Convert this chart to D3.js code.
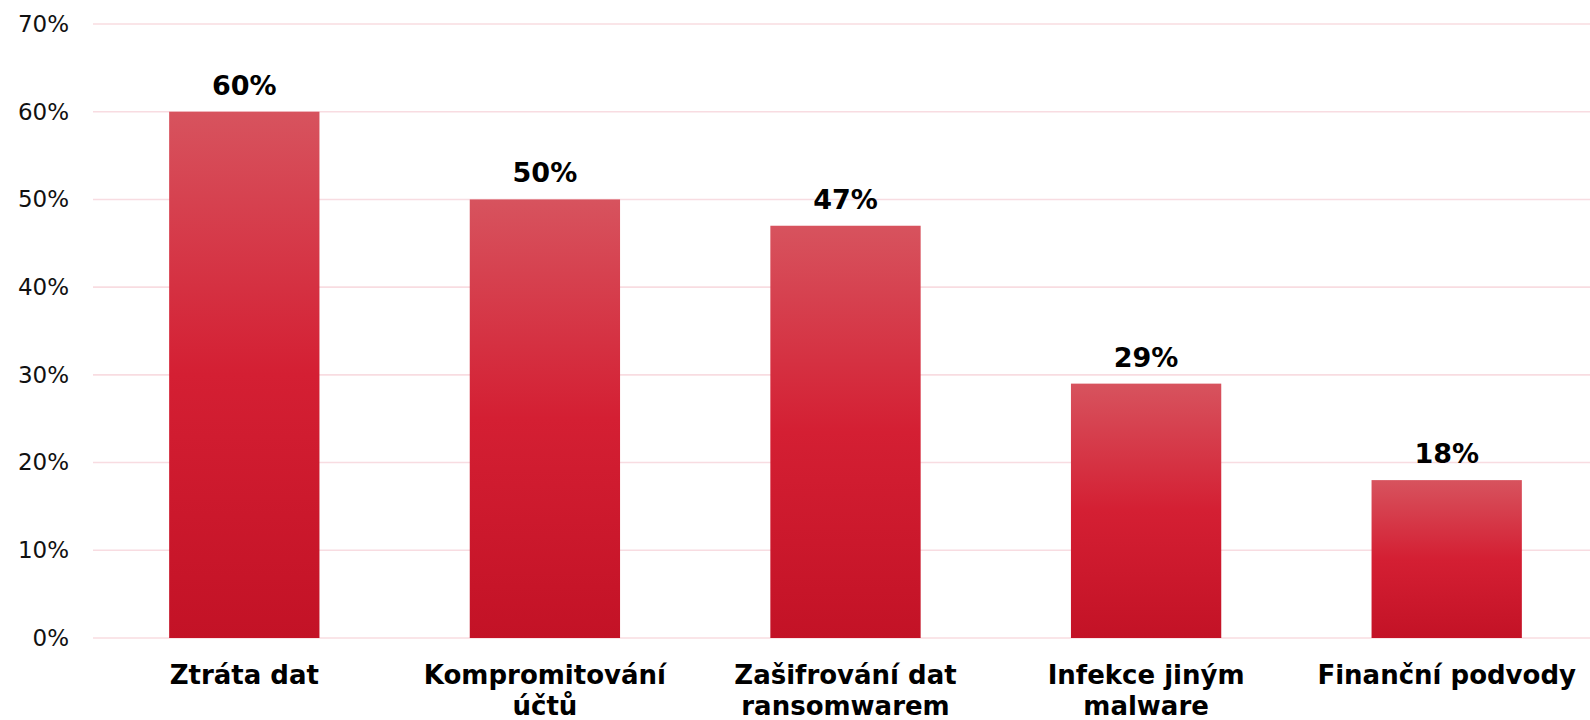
<!DOCTYPE html>
<html>
<head>
<meta charset="utf-8">
<script src="https://cdn.jsdelivr.net/npm/d3@7"></script>
<style>
  html, body { margin: 0; padding: 0; background: #ffffff; }
  svg { display: block; }
</style>
</head>
<body>
<svg id="chart" width="1590" height="720"></svg>
<script>
const categories = ["Ztráta dat", "Kompromitování účtů", "Zašifrování dat ransomwarem", "Infekce jiným malware", "Finanční podvody"];
const values = [60, 50, 47, 29, 18];
const yTicks = [0, 10, 20, 30, 40, 50, 60, 70];

(function () {
const svg = d3.select("#chart");
const W = 1590;
const mLeft = 94, mRight = 1597, mTop = 24, mBottom = 638;

const x = d3.scaleBand().domain(categories).range([mLeft, mRight]).paddingInner(0.5).paddingOuter(0.25);
const y = d3.scaleLinear().domain([0, 70]).range([mBottom, mTop]);

const defs = svg.append("defs");
const grad = defs.append("linearGradient").attr("id", "barGrad").attr("x1", 0).attr("y1", 0).attr("x2", 0).attr("y2", 1);
grad.append("stop").attr("offset", "0%").attr("stop-color", "#d7535e");
grad.append("stop").attr("offset", "50%").attr("stop-color", "#d41f33");
grad.append("stop").attr("offset", "100%").attr("stop-color", "#c31226");

// gridlines
svg.append("g").selectAll("line").data(yTicks).join("line")
  .attr("x1", mLeft - 1).attr("x2", W)
  .attr("y1", d => y(d)).attr("y2", d => y(d))
  .attr("stroke", "#f8dce1").attr("stroke-width", 1.6);

// y axis labels
const yAxis = d3.axisLeft(y).tickValues(yTicks).tickFormat(d => d + "%").tickSize(0).tickPadding(0);
const gy = svg.append("g").attr("transform", "translate(69,0)").call(yAxis);
gy.select(".domain").remove();
gy.selectAll("text").attr("font-family", "DejaVu Sans").attr("font-size", 23).attr("fill", "#111");

// bars
svg.append("g").selectAll("rect").data(values).join("rect")
  .attr("x", (d, i) => x(categories[i]))
  .attr("width", x.bandwidth())
  .attr("y", d => y(d))
  .attr("height", d => y(0) - y(d))
  .attr("fill", "url(#barGrad)");

// value labels
svg.append("g").selectAll("text").data(values).join("text")
  .attr("x", (d, i) => x(categories[i]) + x.bandwidth() / 2)
  .attr("y", d => y(d) - 17)
  .attr("text-anchor", "middle")
  .attr("font-family", "DejaVu Sans").attr("font-weight", "bold").attr("font-size", 27)
  .attr("fill", "#000")
  .text(d => d + "%");

// category labels with wrapping
const maxW = 280;
const gx = svg.append("g");
categories.forEach((c, i) => {
  const cx = x(c) + x.bandwidth() / 2;
  const t = gx.append("text")
    .attr("x", cx)
    .attr("y", 684)
    .attr("text-anchor", "middle")
    .attr("font-family", "DejaVu Sans").attr("font-weight", "bold").attr("font-size", 26)
    .attr("fill", "#000");
  const words = c.split(" ");
  let line = [];
  let tspan = t.append("tspan").attr("x", cx).attr("dy", 0);
  words.forEach(w => {
    line.push(w);
    tspan.text(line.join(" "));
    if (tspan.node().getComputedTextLength() > maxW && line.length > 1) {
      line.pop();
      tspan.text(line.join(" "));
      line = [w];
      tspan = t.append("tspan").attr("x", cx).attr("dy", 31).text(w);
    }
  });
});
})();
</script>
</body>
</html>
